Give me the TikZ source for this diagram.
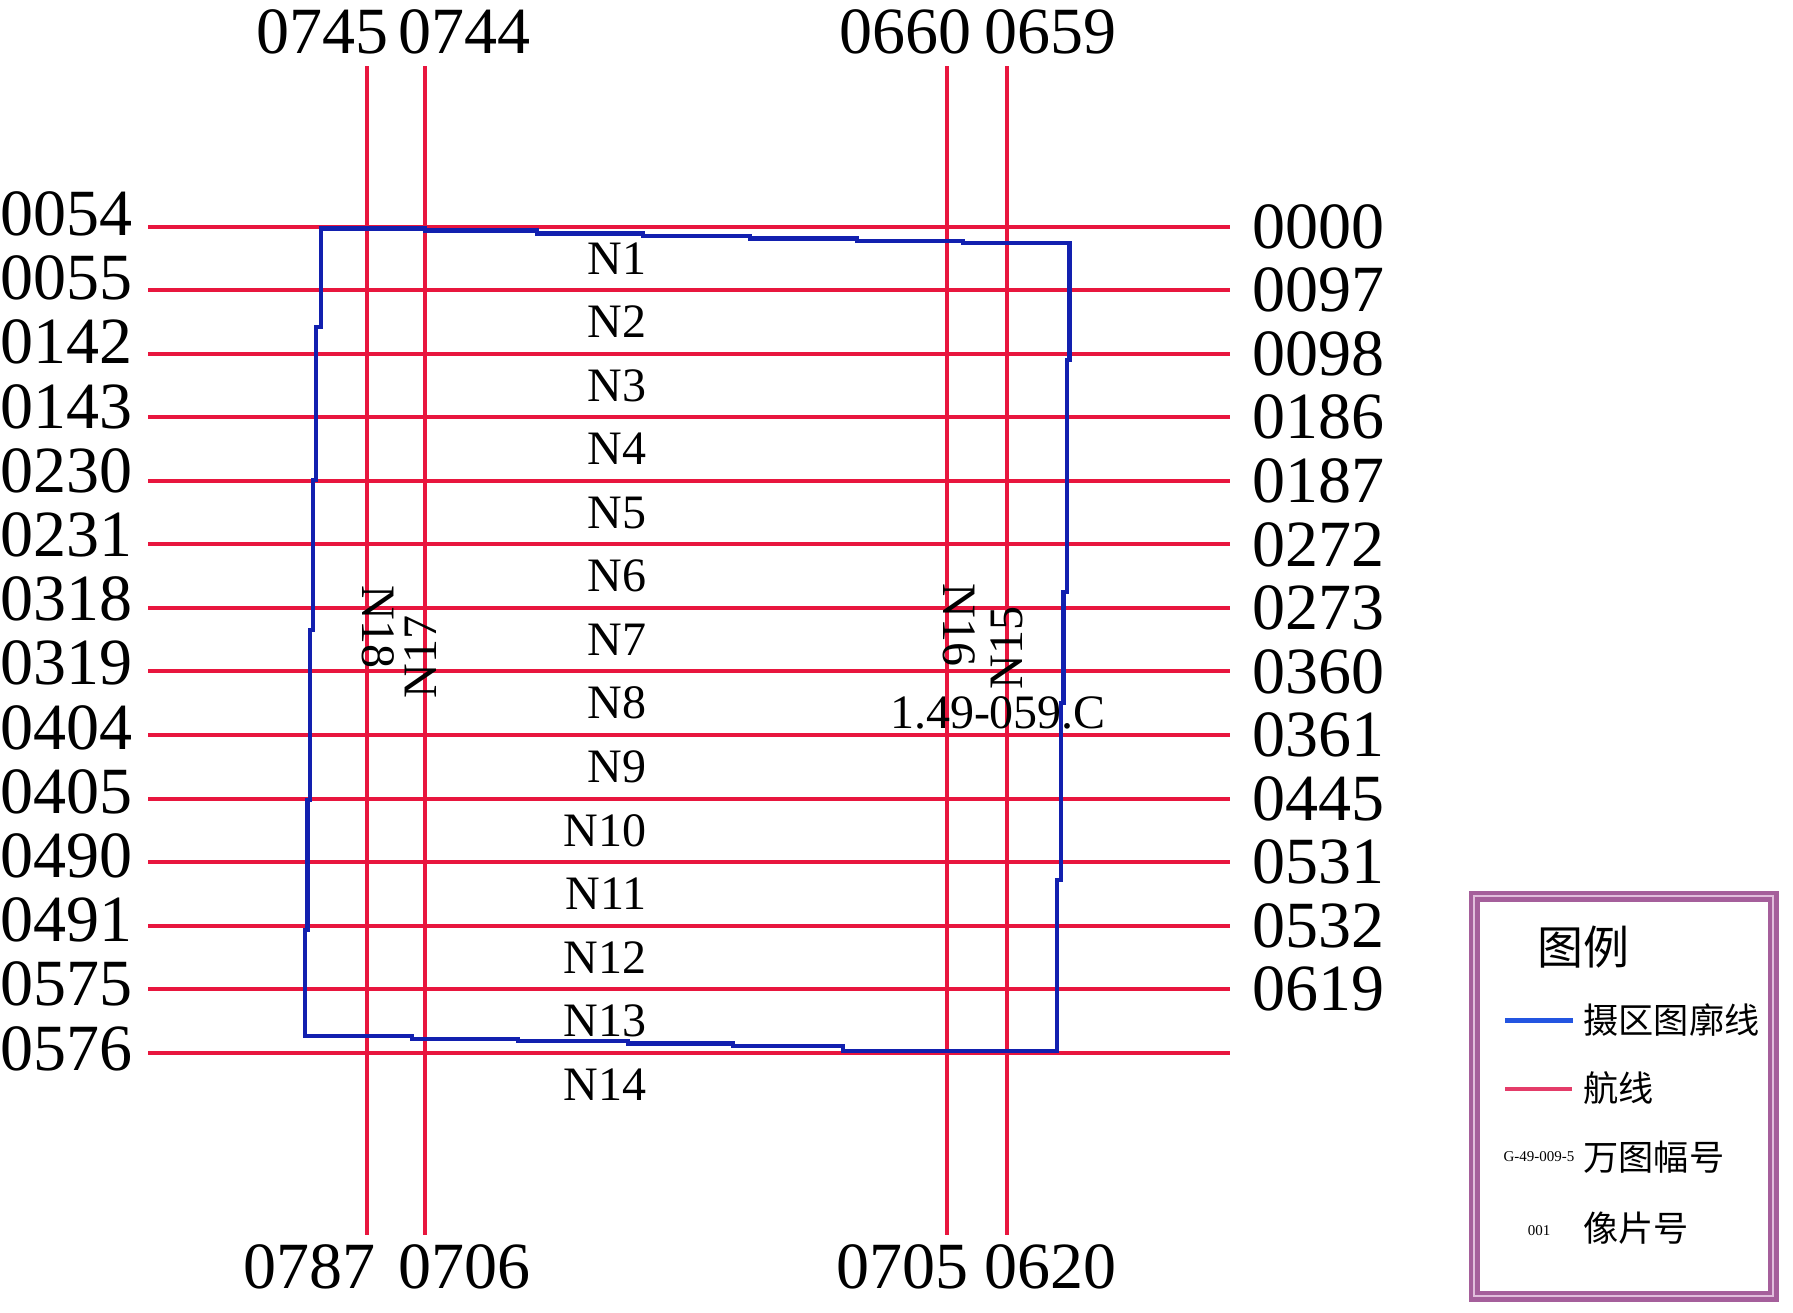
\documentclass[tikz,border=0pt]{standalone}
\usepackage{fontspec}
\setmainfont{Liberation Serif}
\newfontfamily\cjk{Noto Sans CJK SC}
\definecolor{flight}{RGB}{232,22,62}
\definecolor{area}{RGB}{18,32,175}
\definecolor{framec}{RGB}{165,95,155}
\definecolor{framelight}{RGB}{225,190,220}
\definecolor{legblue}{RGB}{35,85,225}
\definecolor{legred}{RGB}{228,60,105}
\begin{document}
\begin{tikzpicture}[x=0.5pt,y=-0.5pt,
  flightline/.style={draw=flight,line width=2pt},
  arealine/.style={draw=area,line width=2.2pt,line join=miter},
  numlbl/.style={font=\fontsize{33}{36}\selectfont,inner sep=0pt},
  nlbl/.style={font=\fontsize{24}{26}\selectfont,inner sep=0pt},
  legtitle/.style={font=\cjk\fontsize{23}{25}\selectfont,inner sep=0pt,anchor=west},
  legitem/.style={font=\cjk\fontsize{17.6}{19}\selectfont,inner sep=0pt,anchor=west},
  legsmall/.style={font=\fontsize{7.5}{8}\selectfont,inner sep=0pt}]
\useasboundingbox (0,0) rectangle (1793,1312);

% horizontal flight lines
\foreach \i in {0,...,13} {
  \pgfmathsetmacro\yy{226.7+63.54*\i}
  \coordinate (hl\i) at (148,\yy);
  \coordinate (hr\i) at (1230,\yy);
  \draw[flightline] (hl\i) -- (hr\i);
}
% vertical flight lines
\foreach \xx [count=\j] in {367,425,947,1007} {
  \coordinate (vt\j) at (\xx,66);
  \coordinate (vb\j) at (\xx,1235);
  \draw[flightline] (vt\j) -- (vb\j);
}

% survey area outline
\draw[arealine] (321,228.3) -- (425,228.3) -- (425,230.5) -- (537,230.5) -- (537,233.3)
  -- (643,233.3) -- (643,235.7) -- (750,235.7) -- (750,238.3) -- (857,238.3)
  -- (857,240.7) -- (963,240.7) -- (963,242.7) -- (1069.5,242.7)
  -- (1069.5,360) -- (1067,360) -- (1067,592) -- (1063.5,592) -- (1063.5,703)
  -- (1061,703) -- (1061,880) -- (1057,880) -- (1057,1050.7)
  -- (843,1050.7) -- (843,1046) -- (733,1046) -- (733,1043.3) -- (628,1043.3)
  -- (628,1041) -- (518,1041) -- (518,1039) -- (412,1039) -- (412,1036) -- (305,1036)
  -- (305,930) -- (307.5,930) -- (307.5,800) -- (310,800) -- (310,630) -- (313,630)
  -- (313,480) -- (316,480) -- (316,327) -- (318.5,327) -- (318.5,327) -- (321,327) -- cycle;

% left labels
\foreach \t [count=\i from 0] in {0054,0055,0142,0143,0230,0231,0318,0319,0404,0405,0490,0491,0575,0576} {
  \pgfmathsetmacro\yy{213.8+64.2*\i}
  \node[numlbl,anchor=east] (L\i) at (133,\yy) {\t};
}
% right labels
\foreach \t [count=\i from 0] in {0000,0097,0098,0186,0187,0272,0273,0360,0361,0445,0531,0532,0619} {
  \pgfmathsetmacro\yy{226.7+63.54*\i}
  \node[numlbl,anchor=west] (R\i) at (1252,\yy) {\t};
}
% top and bottom labels
\node[numlbl] (T1) at (322,32) {0745};
\node[numlbl] (T2) at (464,32) {0744};
\node[numlbl] (T3) at (905,32) {0660};
\node[numlbl] (T4) at (1050.5,32) {0659};
\node[numlbl] (B1) at (309,1267) {0787};
\node[numlbl] (B2) at (464,1267) {0706};
\node[numlbl] (B3) at (902,1267) {0705};
\node[numlbl] (B4) at (1050.5,1267) {0620};

% strip labels
\foreach \k in {1,...,13} {
  \pgfmathsetmacro\yy{226.7+63.54*(\k-0.5)}
  \node[nlbl,anchor=east] (N\k) at (647,\yy) {N\k};
}
\node[nlbl,anchor=east] (N14) at (647,1084.5) {N14};
\node[nlbl,rotate=-90] (N18) at (378,627) {N18};
\node[nlbl,rotate=90] (N17) at (421,657) {N17};
\node[nlbl,rotate=-90] (N16) at (959,625) {N16};
\node[nlbl,rotate=90] (N15) at (1007,648) {N15};
\node[nlbl] (sheet) at (998,713) {1.49-059.C};

% legend
\draw[draw=framec,line width=2.1pt,double=framelight,double distance=1.3pt] (1474,896) rectangle (1773,1296);
\node[legtitle] (lt) at (1537,947) {图例};
\coordinate (lb1) at (1505,1020);
\coordinate (lb2) at (1573,1020);
\draw[draw=legblue,line width=2.5pt] (lb1) -- (lb2);
\node[legitem] (l1) at (1583,1020) {摄区图廓线};
\coordinate (lr1) at (1505,1089);
\coordinate (lr2) at (1572,1089);
\draw[draw=legred,line width=2pt] (lr1) -- (lr2);
\node[legitem] (l2) at (1583,1088) {航线};
\node[legsmall] (g) at (1539,1157) {G-49-009-5};
\node[legitem] (l3) at (1583,1157) {万图幅号};
\node[legsmall] (p) at (1539,1231) {001};
\node[legitem] (l4) at (1583,1228) {像片号};
\end{tikzpicture}
\end{document}
